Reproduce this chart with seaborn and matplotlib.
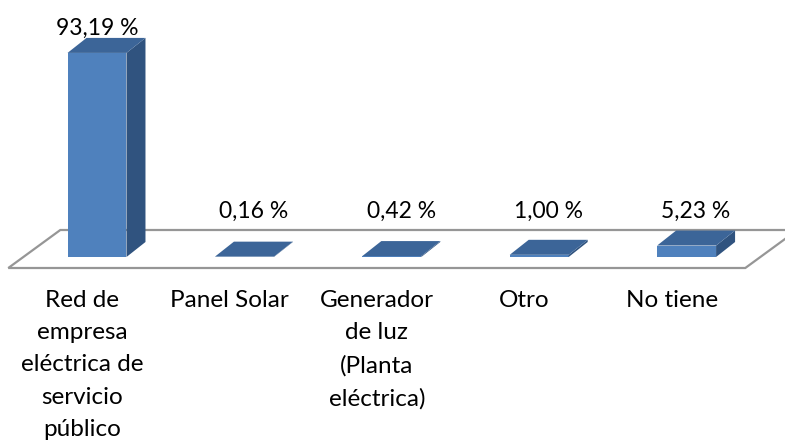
import matplotlib
matplotlib.use("Agg")
import matplotlib.pyplot as plt
import seaborn as sns
import pandas as pd
from matplotlib.patches import Polygon

categories = ["Red de\nempresa\neléctrica de\nservicio\npúblico",
              "Panel Solar",
              "Generador\nde luz\n(Planta\neléctrica)",
              "Otro",
              "No tiene"]
values = [93.19, 0.16, 0.42, 1.00, 5.23]

FRONT = "#4f81bd"
TOP = "#3c6598"
SIDE = "#30537f"
FLOOR_EDGE = "#969696"

sns.set_theme(style="white")
plt.rcParams["font.family"] = ["Lato", "DejaVu Sans"]

W, H = 785, 443
fig = plt.figure(figsize=(W / 100, H / 100), dpi=100)
ax = fig.add_axes([0, 0, 1, 1])

# pixel scales
PX_CAT = 147.4          # pixels per category
PX_VAL = 2.19           # pixels per percent
x0_px = 97.0            # pixel position of first bar centre
y0_px = H - 257.0       # pixel (from bottom) of bar baseline

xmin = -x0_px / PX_CAT
ymin = -y0_px / PX_VAL

def dx(p):
    return p / PX_CAT

def dy(p):
    return p / PX_VAL

df = pd.DataFrame({"cat": categories, "val": values})
sns.barplot(data=df, x="cat", y="val", color=FRONT, saturation=1, width=0.4,
            ax=ax, zorder=3, linewidth=0)
ax.set_xlim(xmin, xmin + W / PX_CAT)
ax.set_ylim(ymin, ymin + H / PX_VAL)

# floor
n = len(categories)
f_front = -11
f_back = 27
sh_front = -15
sh_back = 37
floor = Polygon([(-0.5 + dx(sh_front), dy(f_front)),
                 (n - 0.5 + dx(sh_front), dy(f_front)),
                 (n - 0.5 + dx(sh_back), dy(f_back)),
                 (-0.5 + dx(sh_back), dy(f_back))],
                closed=True, facecolor="white", edgecolor=FLOOR_EDGE,
                linewidth=1.6, zorder=1, joinstyle="miter")
ax.add_patch(floor)

# 3D faces
ddx, ddy = dx(19), dy(15)
bars = list(ax.patches)[:n]
for i, p in enumerate(bars):
    xl = p.get_x()
    xr = xl + p.get_width()
    v = p.get_height()
    side = Polygon([(xr, 0), (xr + ddx, ddy), (xr + ddx, v + ddy), (xr, v)],
                   closed=True, facecolor=SIDE, edgecolor="none", zorder=3)
    top = Polygon([(xl, v), (xr, v), (xr + ddx, v + ddy), (xl + ddx, v + ddy)],
                  closed=True, facecolor=TOP, edgecolor="none", zorder=4)
    ax.add_patch(side)
    ax.add_patch(top)
    ly = max(v + ddy + dy(10), dy(f_back) + dy(19))
    xoff = ddx / 2 if i > 0 else 0
    ax.text((xl + xr) / 2 + xoff, ly, f"{v:.2f} %".replace(".", ","),
            ha="center", va="center", fontsize=16.5, color="black", zorder=5)

# category labels
for i, c in enumerate(categories):
    ax.text(i + dx(sh_front), dy(-33), c, ha="center", va="top",
            fontsize=17.5, color="black", linespacing=1.66)

ax.set_axis_off()
fig.savefig("out.png", dpi=100)
